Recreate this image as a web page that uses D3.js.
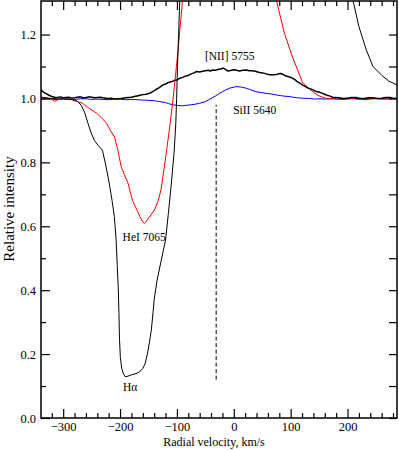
<!DOCTYPE html>
<html><head><meta charset="utf-8">
<script src="https://cdn.jsdelivr.net/npm/d3@7"></script>
<style>html,body{margin:0;padding:0;background:#fff;}svg{display:block;}</style>
</head><body>
<script>
// ---- data ----
const xMajorTicks = [-300, -200, -100, 0, 100, 200];
const xMinorTicks = [-320, -280, -260, -240, -220, -180, -160, -140, -120, -80, -60, -40, -20, 20, 40, 60, 80, 120, 140, 160, 180, 220, 240, 260, 280];
const yMajorTicks = [0.0, 0.2, 0.4, 0.6, 0.8, 1.0, 1.2];
const yMinorTicks = [0.1, 0.3, 0.5, 0.7, 0.9, 1.1];

// H-alpha (thin black), absorption + emission wing
const haV = [-339, -320, -300, -285, -276, -268, -262, -256, -251, -245, -238, -231, -225, -219, -214, -210, -207, -205, -203, -202, -201, -199.5, -197, -194, -191, -186, -180, -172, -166, -160, -156, -152, -148, -145, -142, -140, -135, -128, -120, -115, -110, -105, -102, -100.5, -99, -97, -95, -92];
const haI = [1.003, 1.0, 0.998, 0.997, 0.993, 0.978, 0.955, 0.92, 0.893, 0.868, 0.852, 0.838, 0.79, 0.735, 0.68, 0.63, 0.56, 0.48, 0.40, 0.33, 0.25, 0.19, 0.155, 0.138, 0.129, 0.131, 0.135, 0.139, 0.144, 0.155, 0.17, 0.2, 0.24, 0.275, 0.33, 0.37, 0.43, 0.49, 0.557, 0.64, 0.73, 0.83, 0.92, 1.0, 1.1, 1.2, 1.31, 1.45];
const haRedV = [200, 209.5, 220, 233, 244.7, 259.4, 272, 287];
const haRedI = [1.42, 1.308, 1.225, 1.152, 1.1, 1.074, 1.055, 1.042];

// HeI 7065 (red)
const heV = [-339, -330, -320, -315, -310, -300, -290, -283, -275, -266, -255, -242, -233, -224, -217, -210, -204, -198, -192, -186, -178, -170, -165, -160, -157, -152, -146, -139.5, -133, -128, -122, -118, -112, -107, -102, -97, -93, -90, -86, 65, 74.6, 89, 104, 121.4, 139, 150, 162.6, 180, 200, 220, 240, 260, 287];
const heI = [1.004, 1.002, 0.997, 0.991, 0.996, 1.0, 0.998, 0.995, 0.99, 0.985, 0.97, 0.955, 0.94, 0.923, 0.9, 0.88, 0.84, 0.786, 0.76, 0.735, 0.68, 0.65, 0.63, 0.614, 0.609, 0.62, 0.635, 0.651, 0.68, 0.714, 0.787, 0.839, 0.92, 0.995, 1.08, 1.17, 1.25, 1.31, 1.4, 1.4, 1.31, 1.204, 1.126, 1.048, 1.021, 1.008, 1.0, 0.998, 1.001, 0.997, 1.0, 0.998, 1.0];

// SiII 5640 (blue)
const siV = [-339, -330, -320, -310, -300, -290, -280, -270, -260, -250, -240, -230, -220, -210, -200, -190, -180, -170, -160, -148, -140, -130, -120, -115, -107, -98, -90, -82, -75, -68, -60, -50, -40, -32, -25, -15, -7.6, 4, 12, 22, 30, 39, 50, 60, 67, 74.6, 82, 90, 97, 104, 112, 120, 133, 142, 150, 162, 171, 180, 190, 200, 210, 220, 230, 240, 250, 260, 270, 280, 287];
const siI = [0.997, 0.999, 0.998, 0.996, 0.999, 0.998, 0.997, 0.999, 0.999, 0.997, 0.998, 0.997, 0.996, 0.998, 0.998, 0.996, 0.997, 0.996, 0.995, 0.994, 0.993, 0.99, 0.987, 0.984, 0.98, 0.978, 0.977, 0.979, 0.98, 0.982, 0.985, 0.99, 1.0, 1.008, 1.016, 1.026, 1.032, 1.037, 1.036, 1.032, 1.027, 1.021, 1.018, 1.015, 1.014, 1.011, 1.009, 1.007, 1.006, 1.004, 1.002, 1.001, 1.0, 0.998, 0.999, 0.998, 0.999, 0.999, 0.997, 0.998, 1.0, 1.0, 0.997, 0.998, 1.0, 0.999, 0.998, 1.0, 0.998];

// [NII] 5755 (thick black)
const niV = [-339, -335, -330, -325, -320, -315, -310, -305, -300, -295, -290, -285, -280, -275, -270, -265, -260, -255, -250, -245, -240, -235, -230, -225, -220, -215, -210, -205, -200, -195, -190, -185, -180, -175, -170, -165, -160, -154, -148, -142, -137, -131, -125, -120, -115, -110, -105, -100, -95, -90, -85, -80, -75, -70, -66, -60, -55, -50, -45, -41, -37, -32, -28, -23, -19, -16, -14, -11, -8, -4, 0, 5, 10, 16, 22, 27, 32, 38, 45, 51, 57, 63, 69, 75, 79, 83, 88, 92, 98, 104, 108, 112, 117, 121, 126, 130, 135, 139, 145, 150, 156, 162.6, 168, 174, 180, 185, 192, 200, 207, 215, 222, 230, 237, 245, 252, 260, 267, 275, 281, 287];
const niI = [1.027, 1.02, 1.015, 1.01, 1.006, 1.004, 1.003, 1.005, 1.002, 1.003, 1.004, 1.001, 1.002, 1.004, 1.005, 1.002, 1.003, 1.005, 1.004, 1.002, 1.003, 1.004, 1.002, 1.001, 1.0, 1.001, 0.998, 0.999, 0.999, 1.001, 1.002, 1.003, 1.004, 1.006, 1.008, 1.01, 1.012, 1.013, 1.016, 1.022, 1.028, 1.034, 1.042, 1.045, 1.05, 1.052, 1.056, 1.058, 1.063, 1.066, 1.07, 1.072, 1.077, 1.08, 1.084, 1.083, 1.085, 1.087, 1.088, 1.086, 1.089, 1.088, 1.091, 1.092, 1.095, 1.093, 1.09, 1.086, 1.087, 1.088, 1.09, 1.088, 1.086, 1.088, 1.089, 1.087, 1.087, 1.085, 1.081, 1.08, 1.077, 1.074, 1.074, 1.075, 1.077, 1.078, 1.074, 1.07, 1.067, 1.063, 1.058, 1.052, 1.047, 1.042, 1.037, 1.033, 1.03, 1.027, 1.022, 1.02, 1.016, 1.011, 1.008, 1.004, 1.003, 1.002, 1.0, 1.001, 1.003, 1.003, 1.0, 1.0, 1.002, 1.002, 1.0, 1.001, 1.003, 1.003, 1.0, 1.001];

// dashed marker
const markV = [-31, -31];
const markI = [0.12, 0.98];

const labels = [
  {text: "[NII] 5755", v: -50.8, i: 1.12},
  {text: "SiII 5640", v: -1, i: 0.951},
  {text: "HeI 7065", v: -195.5, i: 0.554},
  {text: "H\u03b1", v: -195, i: 0.0845}
];

// ---- layout ----
const W = 399, H = 450;
const L = 41, R = 397, T = 1, B = 418;
const svg = d3.select("body").append("svg").attr("width", W).attr("height", H);
const x = d3.scaleLinear().domain([-339, 287]).range([L, R]);
const y = d3.scaleLinear().domain([0, 1.305]).range([B, T]);
const font = "'Liberation Serif','Times New Roman',serif";

svg.append("clipPath").attr("id", "clip").append("rect")
  .attr("x", L).attr("y", T).attr("width", R - L).attr("height", B - T);

const plot = svg.append("g").attr("clip-path", "url(#clip)");
const line = d3.line().x(d => x(d[0])).y(d => y(d[1]));
function draw(vs, is, color, w) {
  plot.append("path").datum(vs.map((v, k) => [v, is[k]]))
    .attr("d", line).attr("fill", "none").attr("stroke", color)
    .attr("stroke-width", w).attr("stroke-linejoin", "round");
}
draw(siV, siI, "#0000ff", 1);
draw(heV.slice(0, 39), heI.slice(0, 39), "#ff0000", 1);
draw(heV.slice(39), heI.slice(39), "#ff0000", 1);
draw(niV, niI, "#000000", 1.5);
draw(haV, haI, "#000000", 1);
draw(haRedV, haRedI, "#000000", 1);

plot.append("path").datum(markV.map((v, k) => [v, markI[k]]))
  .attr("d", line).attr("fill", "none").attr("stroke", "#000")
  .attr("stroke-width", 1).attr("stroke-dasharray", "4,2.5");

// axes
function styleAxis(g) {
  g.select(".domain").remove();
  g.selectAll("line").attr("stroke", "#000").attr("stroke-width", 1.2);
  g.selectAll("text").attr("font-family", font).attr("font-size", "12.5px").attr("fill", "#000");
}
svg.append("g").attr("transform", `translate(0,${B})`)
  .call(d3.axisBottom(x).tickValues(xMajorTicks).tickSize(-9).tickFormat(d3.format("d")))
  .call(styleAxis)
  .call(g => g.selectAll("text").attr("y", 12.5).attr("dy", "0"));
svg.append("g").attr("transform", `translate(0,${B})`)
  .call(d3.axisBottom(x).tickValues(xMinorTicks).tickSize(-5).tickFormat("")).call(styleAxis);
svg.append("g").attr("transform", `translate(0,${T})`)
  .call(d3.axisTop(x).tickValues(xMajorTicks).tickSize(-9).tickFormat("")).call(styleAxis);
svg.append("g").attr("transform", `translate(0,${T})`)
  .call(d3.axisTop(x).tickValues(xMinorTicks).tickSize(-5).tickFormat("")).call(styleAxis);
svg.append("g").attr("transform", `translate(${L},0)`)
  .call(d3.axisLeft(y).tickValues(yMajorTicks).tickSize(-9).tickFormat(d3.format(".1f")))
  .call(styleAxis)
  .call(g => g.selectAll("text").attr("x", -5));
svg.append("g").attr("transform", `translate(${L},0)`)
  .call(d3.axisLeft(y).tickValues(yMinorTicks).tickSize(-5).tickFormat("")).call(styleAxis);
svg.append("g").attr("transform", `translate(${R},0)`)
  .call(d3.axisRight(y).tickValues(yMajorTicks).tickSize(-8).tickFormat("")).call(styleAxis);
svg.append("g").attr("transform", `translate(${R},0)`)
  .call(d3.axisRight(y).tickValues(yMinorTicks).tickSize(-8).tickFormat("")).call(styleAxis);

svg.append("rect").attr("x", L).attr("y", T).attr("width", R - L).attr("height", B - T)
  .attr("fill", "none").attr("stroke", "#000").attr("stroke-width", 1.5);

// titles
svg.append("text").attr("x", 214).attr("y", 446).attr("text-anchor", "middle")
  .attr("font-family", font).attr("font-size", "12px").text("Radial velocity, km/s");
svg.append("text").attr("transform", "translate(13.5,209) rotate(-90)").attr("text-anchor", "middle")
  .attr("font-family", font).attr("font-size", "15px").text("Relative intensity");

// annotations
svg.selectAll(".ann").data(labels).enter().append("text")
  .attr("x", d => x(d.v)).attr("y", d => y(d.i))
  .attr("font-family", font).attr("font-size", "11.5px").text(d => d.text);
</script>
</body></html>
